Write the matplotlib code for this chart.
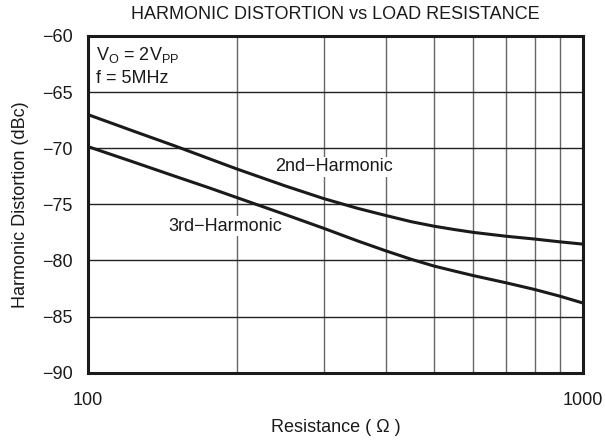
import numpy as np
import matplotlib.pyplot as plt
from matplotlib.ticker import FixedLocator, NullFormatter

plt.rcParams['font.family'] = ['Liberation Sans', 'DejaVu Sans']

# load resistance (ohm)
resistance = [100, 125, 150, 175, 200, 250, 300, 350, 400, 450, 500, 550, 600, 700, 800, 900, 1000]
# distortion (dBc)
second_harm = [-67.0, -68.55, -69.8, -70.9, -71.85, -73.35, -74.5, -75.35, -76.0, -76.55, -76.95,
               -77.25, -77.5, -77.85, -78.1, -78.35, -78.55]
third_harm = [-69.85, -71.3, -72.5, -73.5, -74.4, -75.9, -77.15, -78.25, -79.15, -79.9, -80.5,
              -80.95, -81.35, -82.0, -82.6, -83.2, -83.8]

fig, ax = plt.subplots(figsize=(6.05, 4.42), dpi=100)
fig.subplots_adjust(left=0.145, right=0.9636, top=0.9186, bottom=0.157)

ax.plot(resistance, second_harm, color='#1a1a1a', lw=2.2)
ax.plot(resistance, third_harm, color='#1a1a1a', lw=2.2)

ax.set_xscale('log')
ax.set_xlim(100, 1000)
ax.set_ylim(-90, -60)
ax.set_yticks(np.arange(-90, -59, 5))
ax.set_xticks([100, 1000])
ax.set_xticklabels(['100', '1000'])
ax.xaxis.set_minor_locator(FixedLocator([200, 300, 400, 500, 600, 700, 800, 900]))
ax.xaxis.set_minor_formatter(NullFormatter())
ax.tick_params(axis='both', which='both', length=0, labelsize=13, colors='#1a1a1a')
ax.tick_params(axis='x', pad=14)
ax.tick_params(axis='y', pad=11)

ax.grid(True, which='both', axis='x', color='#666666', lw=1.0)
ax.grid(True, which='major', axis='y', color='#222222', lw=1.0)
for s in ax.spines.values():
    s.set_linewidth(2.2)
    s.set_color('#1a1a1a')

ax.set_title('HARMONIC DISTORTION vs LOAD RESISTANCE', fontsize=13, pad=12, color='#1a1a1a')
ax.set_xlabel('Resistance ( \u03a9 )', fontsize=13, labelpad=7, color='#1a1a1a')
ax.set_ylabel('Harmonic Distortion (dBc)', fontsize=13, labelpad=9, color='#1a1a1a')

ax.text(0.017, 0.972, '$\\mathregular{V_O}$ = 2$\\mathregular{V_{PP}}$', transform=ax.transAxes,
        fontsize=13, va='top', ha='left', color='#1a1a1a')
ax.text(0.017, 0.9, 'f = 5MHz', transform=ax.transAxes,
        fontsize=13, va='top', ha='left', color='#1a1a1a')
ax.text(0.378, 0.611, '2nd\u2212Harmonic', transform=ax.transAxes,
        fontsize=13, ha='left', va='center', color='#1a1a1a',
        bbox=dict(facecolor='white', edgecolor='none', pad=1))
ax.text(0.162, 0.435, '3rd\u2212Harmonic', transform=ax.transAxes,
        fontsize=13, ha='left', va='center', color='#1a1a1a',
        bbox=dict(facecolor='white', edgecolor='none', pad=1))

fig.savefig('out.png', dpi=100)
